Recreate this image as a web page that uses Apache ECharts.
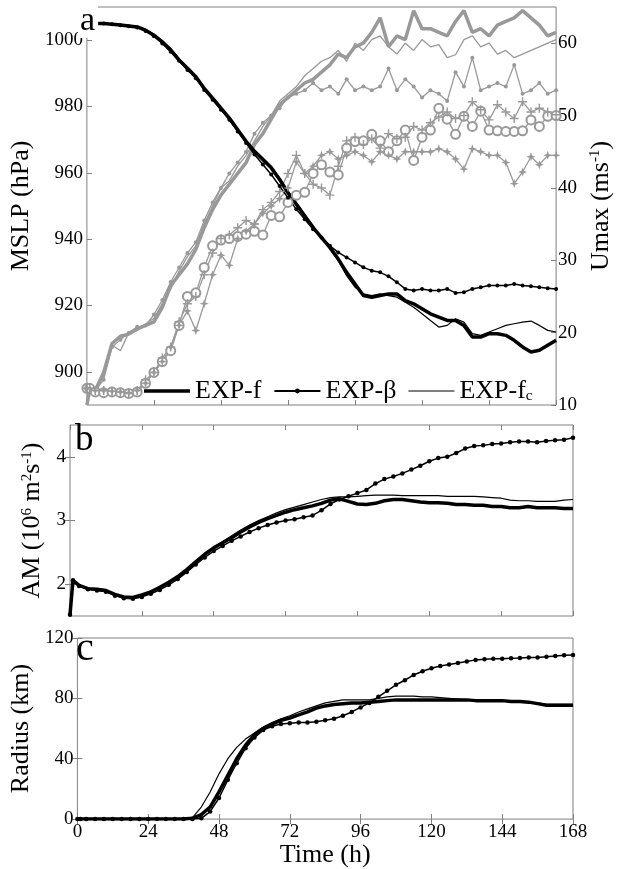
<!DOCTYPE html>
<html>
<head>
<meta charset="utf-8">
<script src="https://cdn.jsdelivr.net/npm/echarts@6/dist/echarts.min.js"></script>
<style>
html, body { margin: 0; padding: 0; background: #fff; }
#chart { width: 622px; height: 869px; }
</style>
</head>
<body>
<div id="chart"></div>
<script>
// time axis (h), shared by every series
var hours = [0, 1, 3, 6, 9, 12, 15, 18, 21, 24,
    27, 30, 33, 36, 39, 42, 45, 48, 51, 54,
    57, 60, 63, 66, 69, 72, 75, 78, 81, 84,
    87, 90, 93, 96, 99, 102, 105, 108, 111, 114,
    117, 120, 123, 126, 129, 132, 135, 138, 141, 144,
    147, 150, 153, 156, 159, 162, 165, 168];

// panel a, MSLP (hPa), black lines
var mslpF = [1004.8, 1004.9, 1005, 1005, 1004.8, 1004.6, 1004.3, 1004, 1003, 1001.5,
    999.5, 997, 994, 991.5, 989, 985.5, 982.5, 979.5, 976.5, 973,
    969.5, 966.5, 964, 961.5, 958, 954, 950.5, 947, 943.5, 940.5,
    937.5, 934, 930, 926.5, 923, 922.5, 923, 923.5, 923.5, 921.5,
    920.5, 919, 917.5, 916.5, 915.5, 915.5, 914, 910.5, 910.5, 911.5,
    911.5, 911, 909.5, 907.5, 906, 906.5, 908, 909.5];
var mslpB = [1004.8, 1004.9, 1005, 1005, 1004.8, 1004.5, 1004.2, 1003.8, 1002.8, 1001.2,
    999, 996.5, 993.8, 991, 988.5, 985, 982, 979, 976, 972.5,
    969, 965.5, 962.5, 959.5, 956, 952.5, 949, 946, 943, 940.5,
    938, 936, 934.5, 933, 931.5, 930.5, 930, 928.8, 927, 925,
    924.5, 925, 924.5, 924.5, 925, 923.8, 924, 925, 925.5, 926,
    926, 926, 926.5, 926, 925.8, 925.5, 925.2, 925];
var mslpFc = [1004.8, 1004.9, 1005, 1005, 1004.8, 1004.6, 1004.3, 1004, 1003.2, 1001.8,
    999.5, 997.5, 994.5, 991, 988.5, 985.5, 982.5, 979.5, 976, 972.5,
    969.5, 966.8, 964.5, 962, 958.5, 954.5, 951, 947.5, 944, 940.5,
    937, 933.5, 929, 925.5, 923.5, 923, 923.5, 923, 922.5, 921,
    919.5, 917.5, 915.5, 913.5, 914, 916, 915, 911.5, 911, 912,
    913, 914, 914.5, 915, 915.3, 914, 912.5, 912];

// panel a, Umax (m/s), grey lines
var umaxF = [10, 12.1, 12, 14.5, 18.5, 19.5, 19.8, 20.5, 21, 21.5,
    23.5, 26.5, 28, 29.5, 31.5, 34.5, 37, 39, 40.5, 42,
    43.5, 46, 47.5, 49.5, 51.5, 52.5, 53.5, 54.5, 55, 56,
    57, 58.5, 58, 59.5, 60, 61.5, 63.5, 59.5, 61, 60.5,
    64.5, 62, 62, 61.5, 61, 63, 64.5, 61.5, 62, 61,
    62.5, 63, 63.5, 64.5, 63.5, 62.5, 61, 61.5];
var umaxFc = [12.1, 12.1, 12, 14, 18.3, 17.5, 20, 20.3, 21.2, 22,
    24, 26, 28.5, 30.5, 32, 35, 37.5, 40, 41, 43,
    44.5, 46.5, 48.5, 50, 52, 53, 54, 55.5, 56.5, 57.5,
    58, 59, 57.5, 60, 59, 60.5, 61, 59.5, 58.5, 60,
    59, 60.5, 59.5, 59.8, 58, 58.4, 60.5, 61, 59.5, 60,
    58.5, 59, 58, 58.5, 59, 59.5, 60, 60.5];
var umaxB = [12.1, 12.1, 12, 13.5, 18, 19, 20, 20.8, 21, 22.5,
    24.5, 27, 29, 31, 32.5, 35.5, 38, 40, 42, 43.5,
    45, 47.5, 49, 50, 51, 52.5, 53, 53.5, 54.5, 53.5,
    54, 53, 55, 53.5, 54, 53.5, 54, 56.5, 53.5, 55,
    54, 52.5, 53.5, 53, 52, 56, 54, 58, 53.5, 54,
    54.5, 54, 57, 53, 53.5, 54.5, 53, 53.5];
// lower grey group with markers
var ringF = [12.3, 12.3, 11.8, 11.7, 11.8, 11.7, 11.6, 11.8, 13, 14.5,
    16, 17.5, 21, 25, 25.5, 29, 32, 32.8, 33, 33.3,
    33.6, 34, 33.5, 36.2, 36, 38, 39, 39.4, 42, 43.2,
    42.2, 41.8, 45.5, 46.4, 46.5, 47.4, 46.5, 45, 46.5, 48,
    43.8, 47, 48, 51, 49.5, 47.4, 49.9, 48.5, 50.6, 48,
    47.9, 47.8, 47.8, 47.9, 49.4, 48.5, 49.9, 50];
var ringFc = [12.3, 12.3, 12, 12, 11.9, 11.8, 11.6, 12, 13.5, 14.5,
    16.5, 18, 21.5, 24, 25, 28, 31, 33, 33.5, 34.5,
    35.5, 35, 37, 38, 39.5, 42, 44.5, 42, 40.5, 40,
    39, 43, 46.5, 47, 46, 46.8, 45.5, 47.5, 46.8, 47,
    48.5, 48, 49, 49.8, 50.5, 49.6, 50, 51.9, 50.8, 49.4,
    51.5, 50.5, 49.6, 51.9, 50.5, 51, 50.5, 50.1];
var ringB = [12.3, 12.3, 12, 12, 11.9, 11.8, 11.7, 12, 13, 14.5,
    16, 18, 21, 23, 20.3, 24, 28, 30.7, 29.3, 33,
    34, 35, 36.5, 37.5, 38.5, 40, 43.6, 42, 43, 44.5,
    45, 44, 44.5, 45, 44.5, 43.6, 45, 44.5, 44, 45,
    45, 45, 45, 45.4, 45, 44, 42.6, 45.4, 45, 44.5,
    44.5, 43.5, 40.6, 42.2, 44.3, 43.2, 44.5, 44.5];

// panel b, AM (10^6 m2/s)
var amF = [1.52, 2.06, 1.98, 1.93, 1.92, 1.9, 1.84, 1.8, 1.79, 1.83,
    1.88, 1.95, 2.03, 2.12, 2.23, 2.35, 2.47, 2.57, 2.65, 2.73,
    2.82, 2.9, 2.97, 3.03, 3.08, 3.13, 3.17, 3.2, 3.23, 3.27,
    3.32, 3.34, 3.3, 3.26, 3.25, 3.27, 3.31, 3.33, 3.33, 3.31,
    3.29, 3.28, 3.28, 3.27, 3.25, 3.25, 3.24, 3.24, 3.22, 3.22,
    3.2, 3.2, 3.22, 3.2, 3.2, 3.2, 3.19, 3.19];
var amB = [1.52, 2.06, 1.97, 1.92, 1.9, 1.88, 1.82, 1.78, 1.77, 1.8,
    1.85, 1.91, 1.99, 2.08, 2.19, 2.31, 2.42, 2.52, 2.6, 2.68,
    2.75, 2.82, 2.88, 2.93, 2.97, 3.0, 3.02, 3.05, 3.08, 3.16,
    3.26, 3.33, 3.38, 3.43, 3.48, 3.58, 3.65, 3.69, 3.74, 3.8,
    3.86, 3.93, 3.98, 4.0, 4.06, 4.13, 4.17, 4.18, 4.2, 4.21,
    4.23, 4.24, 4.24, 4.23, 4.25, 4.26, 4.27, 4.3];
var amFc = [1.52, 2.06, 1.98, 1.93, 1.92, 1.9, 1.84, 1.8, 1.79, 1.83,
    1.88, 1.95, 2.03, 2.12, 2.23, 2.35, 2.47, 2.58, 2.67, 2.76,
    2.85, 2.93, 3.0, 3.06, 3.12, 3.17, 3.21, 3.25, 3.29, 3.33,
    3.36, 3.37, 3.37, 3.38, 3.39, 3.4, 3.4, 3.4, 3.39, 3.39,
    3.39, 3.39, 3.39, 3.38, 3.38, 3.38, 3.38, 3.37, 3.36, 3.35,
    3.32, 3.31, 3.31, 3.3, 3.3, 3.3, 3.32, 3.33];

// panel c, radius (km)
var radF = [0, 0, 0, 0, 0, 0, 0, 0, 0, 0,
    0, 0, 0, 0, 0.5, 3, 8, 18, 29, 40,
    49, 56, 60, 63, 65.5, 67, 69, 71, 73.5, 75,
    76, 76.5, 77, 77, 77.5, 78, 78.5, 79, 79, 79,
    79, 79, 79, 79, 79, 79, 78.5, 78.5, 78.5, 78.5,
    78, 78, 77.5, 76.5, 75.5, 75.5, 75.5, 75.5];
var radB = [0, 0, 0, 0, 0, 0, 0, 0, 0, 0,
    0, 0, 0, 0, 0, 0.5, 5, 14, 26, 37,
    47, 54, 59, 61.5, 63, 63.5, 64, 64, 64.5, 65.5,
    66.5, 68.5, 71, 74, 77, 81, 85, 89, 92, 95.5,
    98, 100, 101.5, 102.5, 103.5, 104.5, 105.5, 106, 106.2, 106.3,
    106.5, 106.7, 107, 107, 107.5, 108, 108.5, 108.8];
var radFc = [0, 0, 0, 0, 0, 0, 0, 0, 0, 0,
    0, 0, 0, 0, 1, 8, 18, 30, 40, 47.5,
    53, 57, 61, 64, 66.5, 68.5, 71, 73, 75, 77,
    78, 79, 79, 79, 79, 80, 81, 81.5, 81.5, 81.5,
    81, 81, 80.5, 80, 79.5, 79, 79, 79, 78.5, 78.5,
    78, 78, 77.5, 77, 76, 76, 76, 76];

var mslpTicks = [900, 920, 940, 960, 980, 1000];
var umaxTicks = [10, 20, 30, 40, 50, 60];
var amTicks = [2, 3, 4];
var radTicks = [0, 40, 80, 120];

var FONT = "'Liberation Serif', 'DejaVu Serif', serif";
var GRAY = '#999999';
var FRAME = '#808080';

function pts(vals) {
    return hours.map(function (t, i) { return [t, vals[i]]; });
}

function plain(v) { return String(v); }

function xAx(grid, pos, labels, name) {
    return {
        type: 'value', gridIndex: grid, position: pos,
        min: 0, max: 168, interval: 24,
        axisLine: { show: false },
        splitLine: { show: false },
        axisTick: { show: true, inside: true, length: 5, lineStyle: { color: FRAME } },
        axisLabel: { show: labels, margin: 3, fontFamily: FONT, fontSize: 19, color: '#000', formatter: plain },
        name: name || '', nameLocation: 'middle', nameGap: 6,
        nameTextStyle: { fontFamily: FONT, fontSize: 26, color: '#000' }
    };
}

function yAx(grid, pos, min, max, ticks, labels, name, gap) {
    return {
        type: 'value', gridIndex: grid, position: pos,
        min: min, max: max,
        axisLine: { show: false },
        splitLine: { show: false },
        axisTick: { show: true, inside: true, length: 5, customValues: ticks, lineStyle: { color: FRAME } },
        axisLabel: { show: labels, customValues: ticks, margin: pos === 'left' ? 4 : 2,
            fontFamily: FONT, fontSize: 19, color: '#000', formatter: plain },
        name: name || '', nameLocation: 'middle', nameGap: gap || 0, nameRotate: 90,
        nameTextStyle: {
            fontFamily: FONT, fontSize: 26, color: '#000',
            rich: { sup: { fontFamily: FONT, fontSize: 15, color: '#000', verticalAlign: 'top' } }
        }
    };
}

function line(name, x, y, vals, color, width, extra) {
    var s = {
        name: name, type: 'line', xAxisIndex: x, yAxisIndex: y,
        data: pts(vals), symbol: 'none', silent: true,
        color: color,
        lineStyle: { color: color, width: width },
        itemStyle: { color: color }
    };
    for (var k in extra) s[k] = extra[k];
    return s;
}

var plusPath = 'path://M4.2,0H5.8V4.2H10V5.8H5.8V10H4.2V5.8H0V4.2H4.2Z';
var starPath = 'path://M5,0L6.3,3.7L10,5L6.3,6.3L5,10L3.7,6.3L0,5L3.7,3.7Z';

var myChart = echarts.init(document.getElementById('chart'));

var option = {
    animation: false,
    backgroundColor: '#fff',
    grid: [
        { left: 70, right: 49, top: 7, height: 398, show: true, borderColor: FRAME, borderWidth: 1 },
        { left: 70, right: 49, top: 425, height: 191, show: true, borderColor: FRAME, borderWidth: 1 },
        { left: 70, right: 49, top: 638, height: 190, show: true, borderColor: FRAME, borderWidth: 1 }
    ],
    title: [
        { text: 'a', left: 78, top: 4, z: 10, padding: [0, 3, 0, 2], backgroundColor: '#fff',
          textStyle: { fontFamily: FONT, fontSize: 34, fontWeight: 'normal', color: '#000' } },
        { text: 'b', left: 75, top: 422, padding: 0,
          textStyle: { fontFamily: FONT, fontSize: 37, fontWeight: 'normal', color: '#000' } },
        { text: 'c', left: 76, top: 629, padding: 0,
          textStyle: { fontFamily: FONT, fontSize: 40, fontWeight: 'normal', color: '#000' } }
    ],
    legend: {
        left: 144, top: 378, padding: 0, itemGap: 12, itemWidth: 46, itemHeight: 6,
        selectedMode: false,
        data: [
            { name: 'EXP-f', icon: 'path://M0,0H46V3.5H0Z' },
            { name: 'EXP-β' },
            { name: 'EXP-fc', icon: 'path://M0,0H46V1.2H0Z' }
        ],
        formatter: function (n) { return n === 'EXP-fc' ? 'EXP-f{sub|c}' : n; },
        textStyle: {
            fontFamily: FONT, fontSize: 26, color: '#000',
            rich: { sub: { fontFamily: FONT, fontSize: 15, color: '#000', verticalAlign: 'bottom' } }
        }
    },
    xAxis: [
        xAx(0, 'bottom', false),
        xAx(1, 'bottom', false),
        xAx(1, 'top', false),
        xAx(2, 'bottom', true, 'Time (h)'),
        xAx(2, 'top', false)
    ],
    yAxis: [
        yAx(0, 'left', 890, 1010, mslpTicks, true, 'MSLP (hPa)', 29),
        yAx(0, 'right', 10, 65, umaxTicks, true, 'Umax (ms{sup|-1})', 18),
        yAx(1, 'left', 1.5, 4.5, amTicks, true, 'AM (10{sup|6} m{sup|2}s{sup|-1})', 24),
        yAx(1, 'right', 1.5, 4.5, amTicks, false),
        yAx(2, 'left', 0, 120, radTicks, true, 'Radius (km)', 26),
        yAx(2, 'right', 0, 120, radTicks, false)
    ],
    series: [
        // grey Umax group
        line('Umax f', 0, 1, umaxF, GRAY, 3.5),
        line('Umax fc', 0, 1, umaxFc, GRAY, 1.3),
        line('Umax b', 0, 1, umaxB, GRAY, 1.3, { symbol: 'circle', symbolSize: 4 }),
        line('ring f', 0, 1, ringF, GRAY, 1.3, { symbol: 'emptyCircle', symbolSize: 9 }),
        line('ring fc', 0, 1, ringFc, GRAY, 1.3, { symbol: plusPath, symbolSize: 9 }),
        line('ring b', 0, 1, ringB, GRAY, 1.3, { symbol: starPath, symbolSize: 9 }),
        // black MSLP
        line('EXP-f', 0, 0, mslpF, '#000', 3.5),
        line('EXP-β', 0, 0, mslpB, '#000', 1.5, { symbol: 'circle', symbolSize: 4 }),
        line('EXP-fc', 0, 0, mslpFc, '#000', 1.2),
        // panel b
        line('EXP-f', 1, 2, amF, '#000', 3.5),
        line('EXP-β', 1, 2, amB, '#000', 1.5, { symbol: 'circle', symbolSize: 4.5 }),
        line('EXP-fc', 1, 2, amFc, '#000', 1.2),
        // panel c
        line('EXP-f', 3, 4, radF, '#000', 3.5),
        line('EXP-β', 3, 4, radB, '#000', 1.5, { symbol: 'circle', symbolSize: 4.5 }),
        line('EXP-fc', 3, 4, radFc, '#000', 1.2)
    ]
};

myChart.setOption(option);
</script>
</body>
</html>
